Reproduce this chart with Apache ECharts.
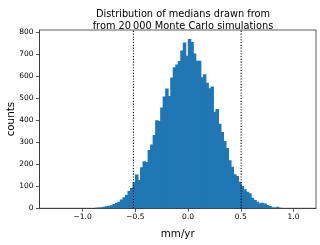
<!DOCTYPE html>
<html><head><meta charset="utf-8">
<script src="https://cdn.jsdelivr.net/npm/echarts@6/dist/echarts.min.js"></script>
<style>html,body{margin:0;padding:0;background:#fff}#c{width:320px;height:245px}</style>
</head><body><div id="c"></div>
<script>
// Histogram definition: 100 equal bins
const binStart = -1.290;
const binWidth = 0.02384;
const counts = [
  1,0,0,0,0,0,0,0,0,0,0,0,0,0,0,0,1,
  3,4,5,7,9,12,14,20,25,30,40,50,60,78,
  92,119,153,128,186,213,210,265,289,333,400,396,
  457,507,544,510,593,640,652,668,716,752,692,768,
  755,702,669,669,595,608,570,545,553,438,450,384,
  346,305,274,218,188,155,146,120,101,86,75,68,
  48,38,30,23,25,22,15,10,5,4,7,3,1,
  0,0,0,0,0,0,0,1
];
const vlines = [-0.518, 0.503];
const xTicks = [-1.0, -0.5, 0.0, 0.5, 1.0];
const yTicks = [0, 100, 200, 300, 400, 500, 600, 700, 800];
const xRange = [-1.409, 1.213];
const yRange = [0, 809];

const FONT = 'DejaVu Sans';
const histData = counts.map((c, i) => [binStart + i * binWidth, binStart + (i + 1) * binWidth, c]);

const chart = echarts.init(document.getElementById('c'), null, {renderer: 'canvas'});
const series = [{
  type: 'custom',
  data: histData,
  encode: {x: [0, 1], y: 2},
  clip: true,
  renderItem: function (params, api) {
    const p0 = api.coord([api.value(0), api.value(2)]);
    const p1 = api.coord([api.value(1), 0]);
    return {
      type: 'rect',
      shape: {x: p0[0], y: p0[1], width: p1[0] - p0[0] + 1, height: p1[1] - p0[1]},
      style: {fill: '#1f77b4', stroke: null, lineWidth: 0}
    };
  },
  silent: true
}];
vlines.forEach(v => {
  series.push({
    type: 'line',
    data: [[v, yRange[0]], [v, yRange[1]]],
    symbol: 'none',
    silent: true,
    lineStyle: {color: '#000', width: 1.1, type: [1.1, 1.7]},
    z: 5
  });
});

chart.setOption({
  animation: false,
  title: {
    text: 'Distribution of medians drawn from\nfrom 20\u2009000 Monte Carlo simulations',
    left: 178, top: 4, textAlign: 'center',
    textStyle: {fontFamily: FONT, fontSize: 9.8, fontWeight: 'normal', color: '#000', lineHeight: 11.5}
  },
  grid: {left: 39.5, right: 4, top: 30, bottom: 36.7, show: true, borderColor: '#333', borderWidth: 0.8,
    containLabel: false, outerBoundsMode: 'none'},
  xAxis: {
    type: 'value', min: xRange[0], max: xRange[1],
    name: 'mm/yr', nameLocation: 'middle', nameGap: 21, nameMoveOverlap: false,
    nameTextStyle: {fontFamily: FONT, fontSize: 10.3, color: '#000'},
    axisLine: {show: true, onZero: false, lineStyle: {color: '#333', width: 0.8}},
    axisTick: {show: true, length: 3.5, customValues: xTicks, lineStyle: {color: '#333', width: 0.8}},
    axisLabel: {customValues: xTicks, margin: 5, fontFamily: FONT, fontSize: 7.5, color: '#000',
      formatter: v => (v < 0 ? '\u2212' : '') + Math.abs(v).toFixed(1)},
    splitLine: {show: false}
  },
  yAxis: {
    type: 'value', min: yRange[0], max: yRange[1],
    name: 'counts', nameLocation: 'middle', nameGap: 23.5, nameRotate: 90, nameMoveOverlap: false,
    nameTextStyle: {fontFamily: FONT, fontSize: 10.3, color: '#000'},
    axisLine: {show: true, onZero: false, lineStyle: {color: '#333', width: 0.8}},
    axisTick: {show: true, length: 3.5, customValues: yTicks, lineStyle: {color: '#333', width: 0.8}},
    axisLabel: {customValues: yTicks, margin: 6, fontFamily: FONT, fontSize: 7.5, color: '#000'},
    splitLine: {show: false}
  },
  series: series
});
</script></body></html>
